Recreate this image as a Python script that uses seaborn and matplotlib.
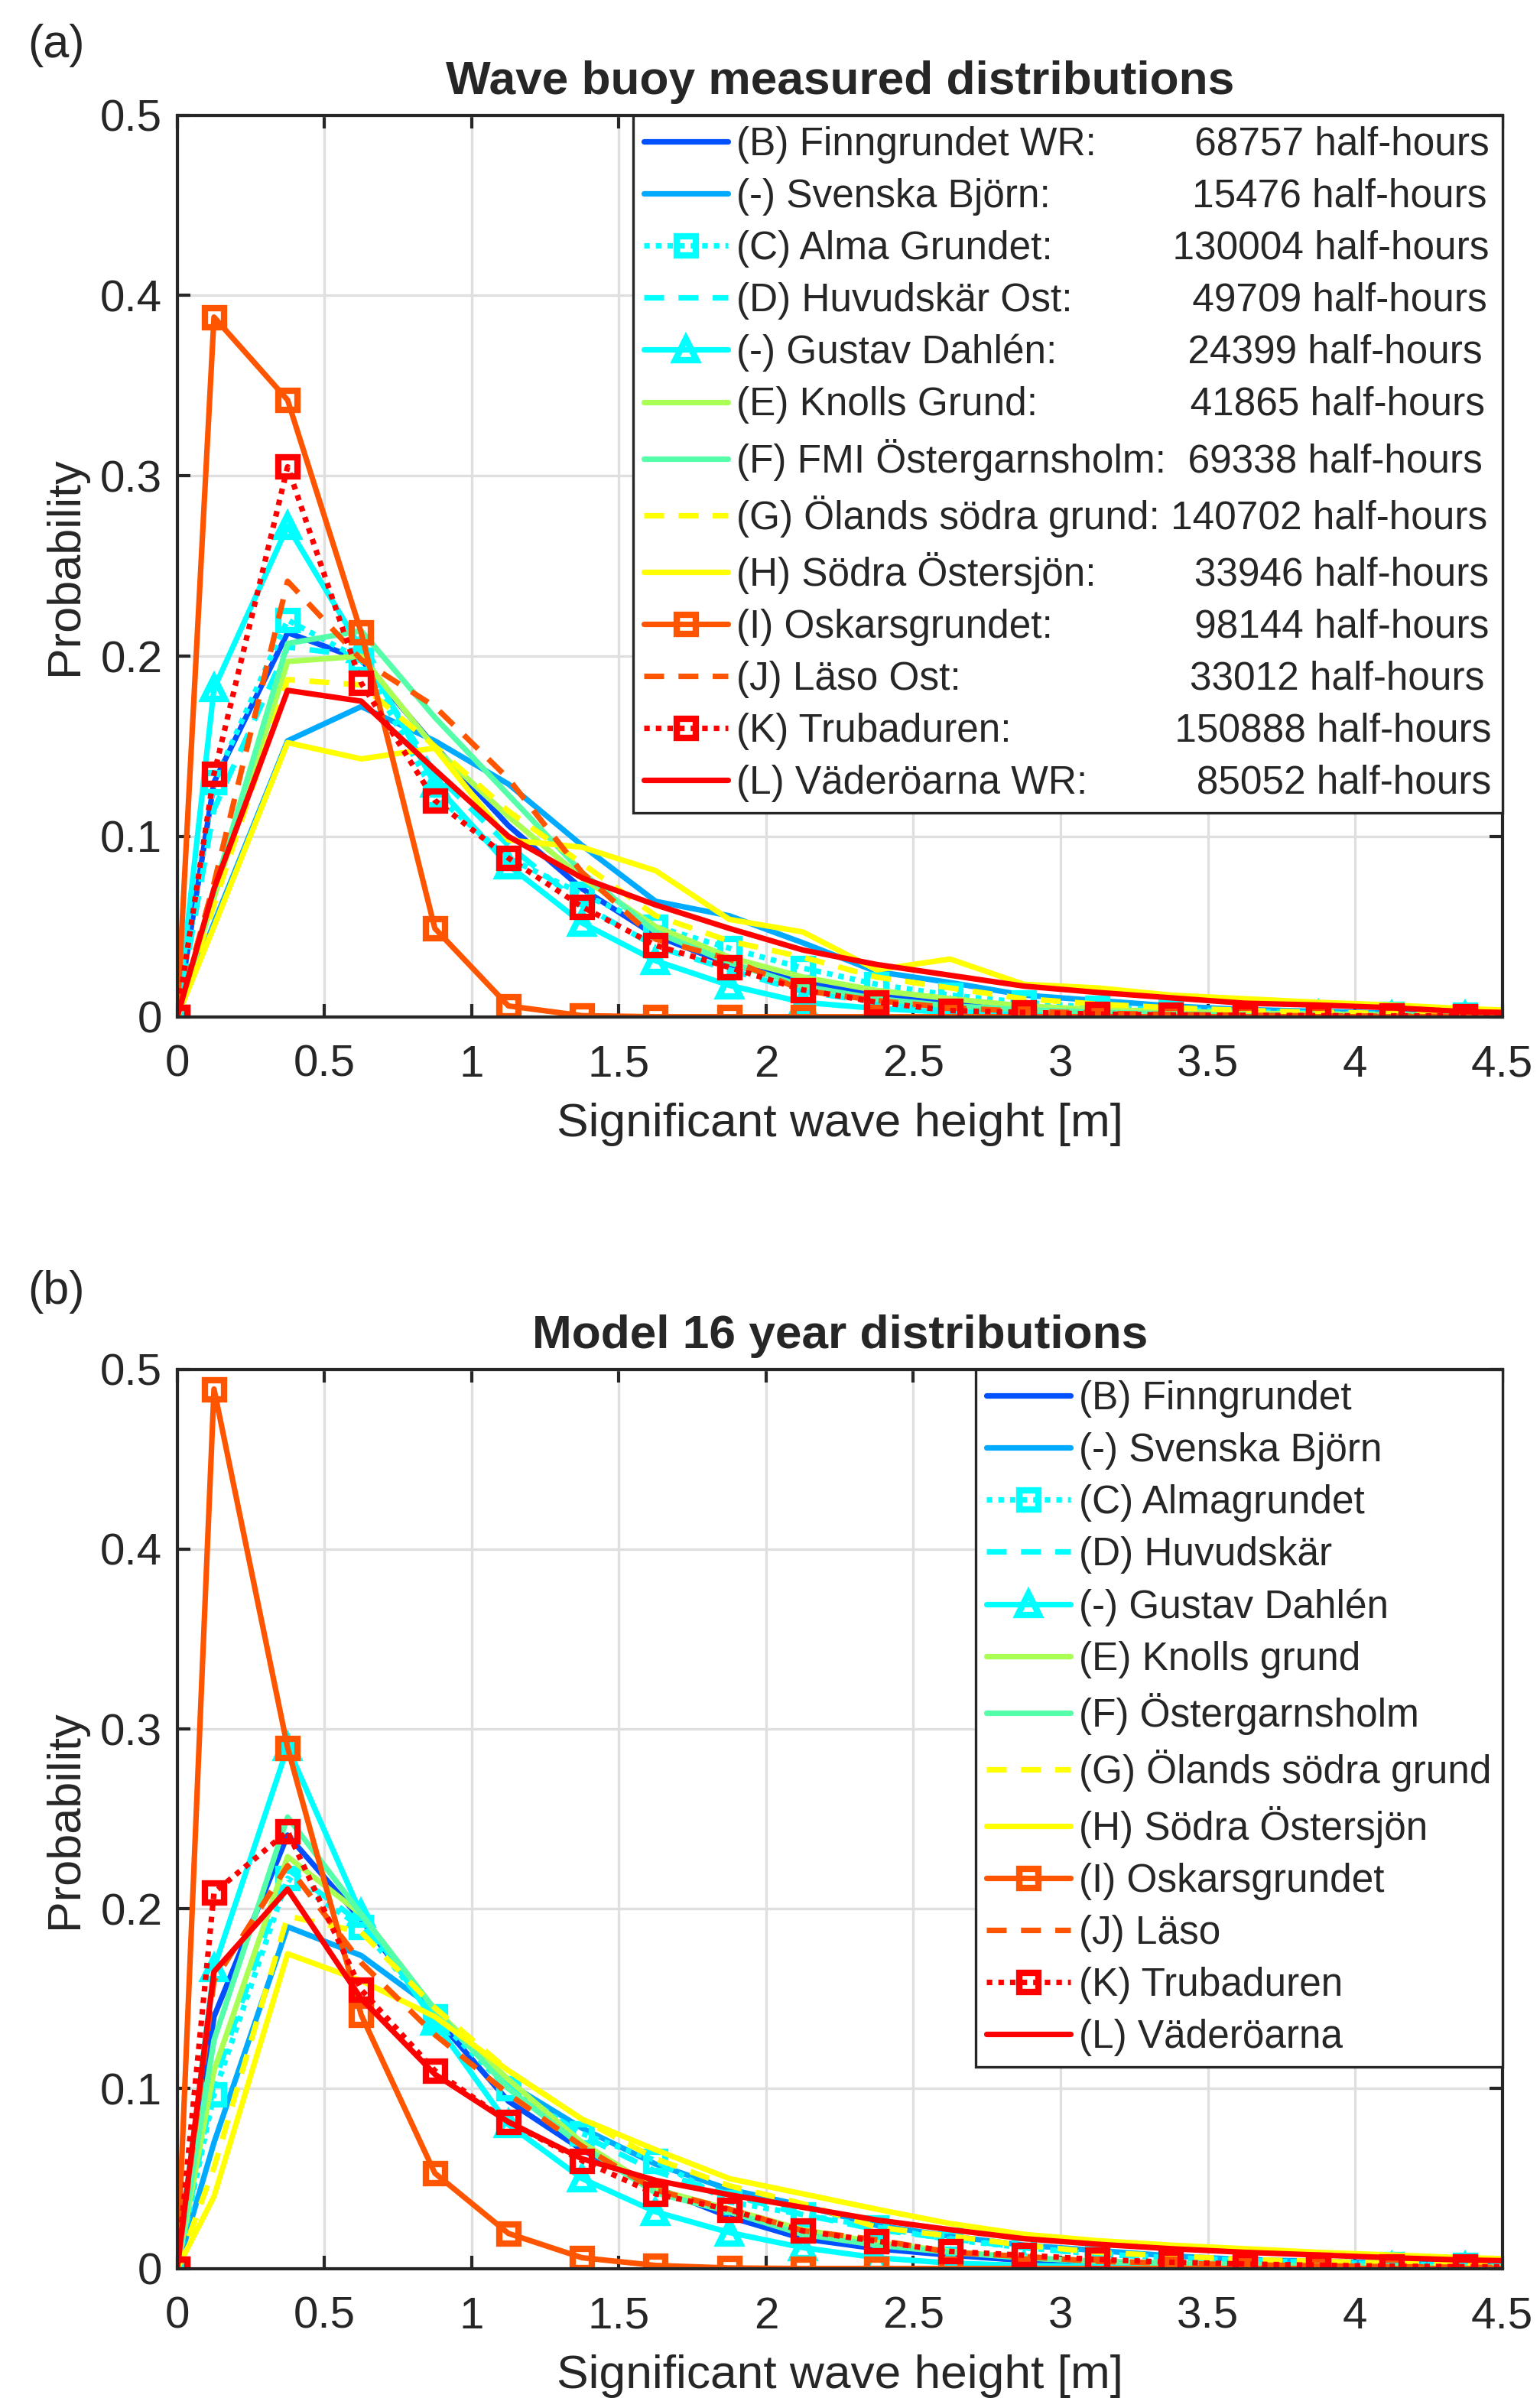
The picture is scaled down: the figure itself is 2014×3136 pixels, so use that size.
import matplotlib
matplotlib.use('Agg')
import numpy as np
import seaborn as sns
import matplotlib.pyplot as plt
from matplotlib.font_manager import FontProperties
from matplotlib.ticker import FormatStrFormatter, MultipleLocator

# significant wave height bin centres (first point is the origin)
hs = [0, 0.125, 0.375, 0.625, 0.875, 1.125, 1.375, 1.625, 1.875, 2.125,
      2.375, 2.625, 2.875, 3.125, 3.375, 3.625, 3.875, 4.125, 4.375, 4.625]

# --- (a) wave buoy measured distributions ---
buoy_B = [0, 0.130, 0.213, 0.198, 0.150, 0.106, 0.071, 0.045, 0.029, 0.020,
          0.012, 0.008, 0.005, 0.003, 0.002, 0.0012, 0.0008, 0.0005, 0.0003, 0.0002]
buoy_SB = [0, 0.052, 0.153, 0.172, 0.153, 0.129, 0.095, 0.064, 0.056, 0.041,
           0.025, 0.019, 0.012, 0.009, 0.006, 0.004, 0.003, 0.002, 0.0015, 0.001]
buoy_C = [0, 0.130, 0.220, 0.198, 0.123, 0.088, 0.068, 0.050, 0.038, 0.027,
          0.018, 0.012, 0.008, 0.005, 0.004, 0.003, 0.002, 0.0015, 0.001, 0.0008]
buoy_D = [0, 0.115, 0.205, 0.200, 0.135, 0.095, 0.062, 0.039, 0.026, 0.014,
          0.008, 0.005, 0.003, 0.002, 0.0015, 0.001, 0.0008, 0.0005, 0.0003, 0.0002]
buoy_GD = [0, 0.182, 0.272, 0.204, 0.129, 0.084, 0.052, 0.031, 0.0174, 0.008,
           0.0046, 0.0025, 0.0015, 0.001, 0.0008, 0.0006, 0.0005, 0.0004, 0.0003, 0.0002]
buoy_E = [0, 0.066, 0.197, 0.200, 0.149, 0.111, 0.077, 0.050, 0.033, 0.022,
          0.0146, 0.010, 0.006, 0.004, 0.003, 0.002, 0.0015, 0.001, 0.0007, 0.0005]
buoy_F = [0, 0.070, 0.207, 0.214, 0.166, 0.123, 0.080, 0.047, 0.030, 0.017,
          0.010, 0.006, 0.004, 0.0025, 0.0015, 0.001, 0.0007, 0.0005, 0.0003, 0.0002]
buoy_G = [0, 0.062, 0.187, 0.184, 0.150, 0.114, 0.085, 0.056, 0.042, 0.033,
          0.022, 0.016, 0.010, 0.007, 0.005, 0.0035, 0.0025, 0.0018, 0.0012, 0.0008]
buoy_H = [0, 0.050, 0.152, 0.143, 0.149, 0.098, 0.094, 0.081, 0.054, 0.047,
          0.026, 0.032, 0.018, 0.016, 0.012, 0.010, 0.008, 0.0065, 0.0045, 0.003]
buoy_I = [0, 0.388, 0.342, 0.213, 0.049, 0.006, 0.0006, 0, 0, 0,
          0, 0, 0, 0, 0, 0, 0, 0, 0, 0]
buoy_J = [0, 0.074, 0.2415, 0.198, 0.172, 0.132, 0.080, 0.043, 0.032, 0.0146,
          0.009, 0.005, 0.003, 0.002, 0.0012, 0.0008, 0.0005, 0.0003, 0.0002, 0.0001]
buoy_K = [0, 0.1345, 0.305, 0.185, 0.120, 0.088, 0.061, 0.0396, 0.0274, 0.0149,
          0.0081, 0.0034, 0.0024, 0.0015, 0.001, 0.0008, 0.0006, 0.0005, 0.0004, 0.0003]
buoy_L = [0, 0.071, 0.181, 0.175, 0.137, 0.100, 0.077, 0.062, 0.049, 0.037,
          0.029, 0.023, 0.017, 0.0135, 0.0105, 0.0075, 0.0065, 0.005, 0.0028, 0.002]

buoy_names = ['(B) Finngrundet WR:', '(-) Svenska Björn:', '(C) Alma Grundet:',
              '(D) Huvudskär Ost:', '(-) Gustav Dahlén:', '(E) Knolls Grund:',
              '(F) FMI Östergarnsholm:', '(G) Ölands södra grund:',
              '(H) Södra Östersjön:', '(I) Oskarsgrundet:', '(J) Läso Ost:',
              '(K) Trubaduren:', '(L) Väderöarna WR:']
buoy_counts = [68757, 15476, 130004, 49709, 24399, 41865, 69338, 140702,
               33946, 98144, 33012, 150888, 85052]

# --- (b) model 16 year distributions ---
model_B = [0, 0.140, 0.241, 0.194, 0.140, 0.093, 0.066, 0.045, 0.0287, 0.0166,
           0.011, 0.0074, 0.0045, 0.003, 0.002, 0.0014, 0.001, 0.0007, 0.0005, 0.0004]
model_SB = [0, 0.070, 0.190, 0.174, 0.144, 0.103, 0.078, 0.058, 0.044, 0.035,
            0.024, 0.018, 0.013, 0.010, 0.007, 0.005, 0.004, 0.003, 0.002, 0.0015]
model_C = [0, 0.097, 0.217, 0.190, 0.140, 0.100, 0.075, 0.060, 0.037, 0.030,
           0.023, 0.016, 0.0116, 0.008, 0.006, 0.0045, 0.0033, 0.0025, 0.0018, 0.0013]
model_D = [0, 0.103, 0.222, 0.192, 0.142, 0.102, 0.074, 0.054, 0.041, 0.030,
           0.0216, 0.0166, 0.0116, 0.008, 0.006, 0.0045, 0.0033, 0.0025, 0.0018, 0.0013]
model_GD = [0, 0.167, 0.290, 0.197, 0.137, 0.080, 0.050, 0.0315, 0.020, 0.0116,
            0.006, 0.003, 0.0017, 0.0012, 0.001, 0.0008, 0.0007, 0.0006, 0.0005, 0.0004]
model_E = [0, 0.110, 0.229, 0.197, 0.144, 0.105, 0.070, 0.044, 0.033, 0.0216,
           0.0145, 0.0095, 0.006, 0.004, 0.003, 0.002, 0.0015, 0.001, 0.0008, 0.0006]
model_F = [0, 0.127, 0.251, 0.197, 0.144, 0.100, 0.068, 0.042, 0.0315, 0.019,
           0.013, 0.009, 0.006, 0.004, 0.003, 0.002, 0.0015, 0.001, 0.0008, 0.0006]
model_G = [0, 0.056, 0.196, 0.187, 0.145, 0.110, 0.083, 0.061, 0.046, 0.036,
           0.023, 0.018, 0.013, 0.009, 0.007, 0.005, 0.004, 0.003, 0.002, 0.0015]
model_H = [0, 0.040, 0.175, 0.160, 0.140, 0.110, 0.083, 0.066, 0.050, 0.0415,
           0.033, 0.025, 0.019, 0.0155, 0.013, 0.011, 0.009, 0.0075, 0.006, 0.005]
model_I = [0, 0.489, 0.2896, 0.141, 0.053, 0.0195, 0.006, 0.0017, 0.0003, 0,
           0, 0, 0, 0, 0, 0, 0, 0, 0, 0]
model_J = [0, 0.160, 0.224, 0.170, 0.130, 0.097, 0.068, 0.0436, 0.033, 0.021,
           0.016, 0.009, 0.0067, 0.004, 0.003, 0.002, 0.0015, 0.001, 0.0007, 0.0005]
model_K = [0, 0.209, 0.243, 0.155, 0.110, 0.0815, 0.060, 0.0415, 0.0327, 0.0209,
           0.0152, 0.0095, 0.0074, 0.005, 0.0035, 0.0025, 0.0018, 0.0013, 0.001, 0.0008]
model_L = [0, 0.165, 0.211, 0.150, 0.108, 0.0815, 0.061, 0.049, 0.041, 0.034,
           0.027, 0.0216, 0.0166, 0.0135, 0.011, 0.009, 0.0075, 0.006, 0.0047, 0.004]

model_names = ['(B) Finngrundet', '(-) Svenska Björn', '(C) Almagrundet',
               '(D) Huvudskär', '(-) Gustav Dahlén', '(E) Knolls grund',
               '(F) Östergarnsholm', '(G) Ölands södra grund', '(H) Södra Östersjön',
               '(I) Oskarsgrundet', '(J) Läso', '(K) Trubaduren', '(L) Väderöarna']

# line styles per station (color, linestyle, marker)
DOT = (0, (1, 1.1))
DASH = (0, (3.6, 2.6))
styles = [('#0050FF', '-', None), ('#00AAFF', '-', None), ('#00FFFF', DOT, 's'),
          ('#00FFFF', DASH, None), ('#00FFFF', '-', '^'), ('#AAFF55', '-', None),
          ('#55FFAA', '-', None), ('#FFFF00', DASH, None), ('#FFFF00', '-', None),
          ('#FF5500', '-', 's'), ('#FF5500', DASH, None), ('#FF0000', DOT, 's'),
          ('#FF0000', '-', None)]

sns.set_style('whitegrid')
plt.rcParams['font.family'] = ['Liberation Sans', 'DejaVu Sans']
plt.rcParams['axes.unicode_minus'] = False

DARK = '#262626'
fig = plt.figure(figsize=(10.075, 15.68), dpi=200)
ax_a = fig.add_axes([0.115, 0.576, 0.86, 0.376])
ax_b = fig.add_axes([0.115, 0.054, 0.86, 0.375])


def draw(ax, series, labels, title):
    for vals, lab, (col, ls, mk) in zip(series, labels, styles):
        kw = dict(color=col, linestyle=ls, linewidth=2.6, label=lab)
        if mk is not None:
            kw.update(marker=mk, markersize=10 if mk == '^' else 9,
                      markerfacecolor='none', markeredgecolor=col,
                      markeredgewidth=3)
        else:
            kw.update(marker='')
        sns.lineplot(x=hs, y=vals, ax=ax, legend=False, **kw)
    ax.set_xlim(0, 4.5)
    ax.set_ylim(0, 0.5)
    ax.xaxis.set_major_locator(MultipleLocator(0.5))
    ax.yaxis.set_major_locator(MultipleLocator(0.1))
    ax.xaxis.set_major_formatter(FormatStrFormatter('%g'))
    ax.yaxis.set_major_formatter(FormatStrFormatter('%g'))
    ax.grid(True, color='#DFDFDF', linewidth=1.2)
    for sp in ax.spines.values():
        sp.set_color(DARK)
        sp.set_linewidth(1.5)
        sp.set_visible(True)
    ax.tick_params(direction='in', length=6, width=1.5, colors=DARK,
                   labelsize=21, top=True, right=True, bottom=True, left=True)
    ax.tick_params(axis='x', pad=13)
    ax.tick_params(axis='y', pad=7)
    ax.set_xlabel('Significant wave height [m]', fontsize=22.4, color=DARK, labelpad=8)
    ax.set_ylabel('Probability', fontsize=22, color=DARK, labelpad=6)
    ax.set_title(title, fontsize=22.4, fontweight='bold', pad=10)


draw(ax_a, [buoy_B, buoy_SB, buoy_C, buoy_D, buoy_GD, buoy_E, buoy_F, buoy_G,
            buoy_H, buoy_I, buoy_J, buoy_K, buoy_L],
     buoy_names, 'Wave buoy measured distributions')
draw(ax_b, [model_B, model_SB, model_C, model_D, model_GD, model_E, model_F,
            model_G, model_H, model_I, model_J, model_K, model_L],
     model_names, 'Model 16 year distributions')

# pad the buoy legend labels so that the counts line up on the right
LEG_FS = 18.5
renderer = fig.canvas.get_renderer()
fp = FontProperties(family='Liberation Sans', size=LEG_FS)


def text_w(s):
    return renderer.get_text_width_height_descent(s, fp, ismath=False)[0]


counts_txt = [f'{c} half-hours' for c in buoy_counts]
target = max(text_w(n + ' ' + c) for n, c in zip(buoy_names, counts_txt))
buoy_labels = []
for n, c in zip(buoy_names, counts_txt):
    best = min(range(1, 40), key=lambda k: abs(text_w(n + ' ' * k + c) - target))
    buoy_labels.append(n + ' ' * best + c)

leg_kw = dict(loc='upper right', bbox_to_anchor=(1, 1), borderaxespad=0,
              fontsize=LEG_FS, frameon=True, fancybox=False, framealpha=1,
              edgecolor=DARK, handlelength=2.15, handletextpad=0.2,
              labelspacing=0.37, borderpad=0.28)
leg = ax_a.legend(ax_a.get_lines(), buoy_labels, **leg_kw)
leg.get_frame().set_linewidth(1.2)
leg = ax_b.legend(ax_b.get_lines(), model_names, **leg_kw)
leg.get_frame().set_linewidth(1.2)

fig.text(0.018, 0.981, '(a)', fontsize=22, va='center', ha='left')
fig.text(0.018, 0.4614, '(b)', fontsize=22, va='center', ha='left')

fig.savefig('out.png', dpi=200, facecolor='white')
